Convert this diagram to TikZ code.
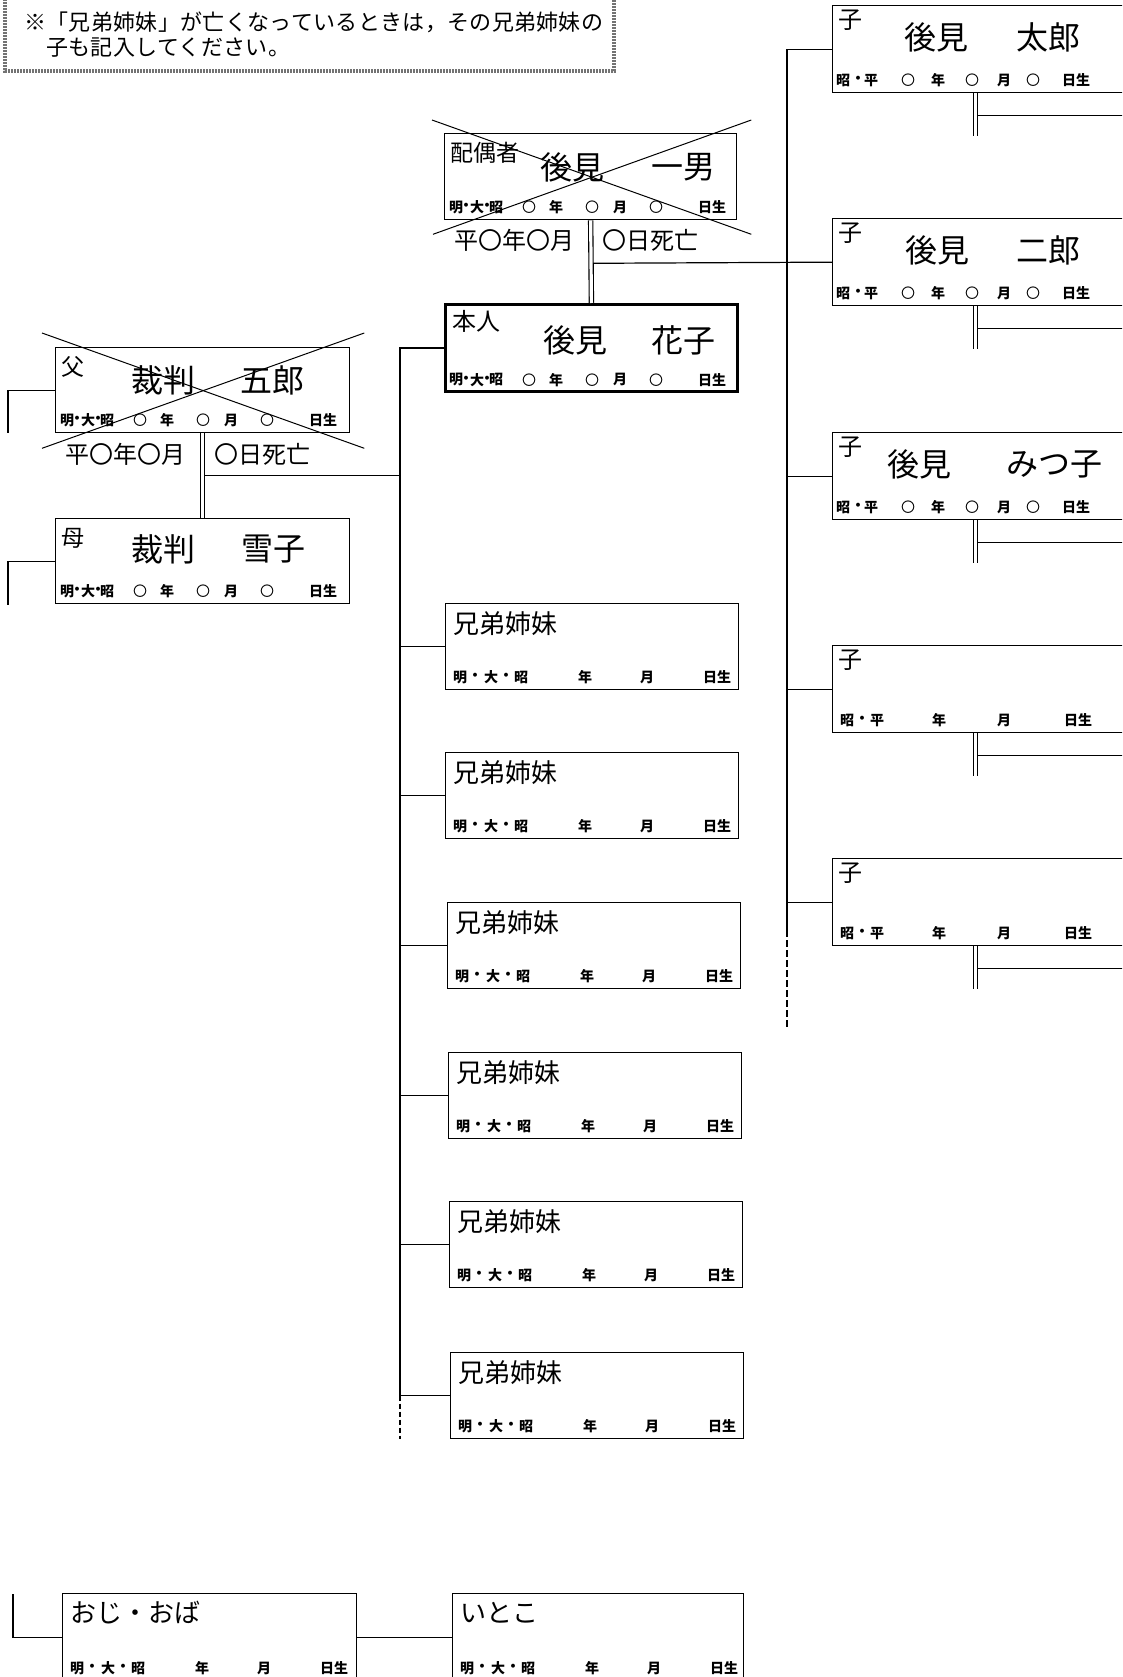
\documentclass[tikz,border=0pt]{standalone}
\usepackage{fontspec}
\newfontfamily\jp{Noto Sans CJK JP}
\newfontfamily\jpn[LetterSpace=1.5]{Noto Sans CJK JP}
\usetikzlibrary{calc}
\newcommand\cir{{\mdseries 〇}}
\newcommand\rowAfull[1]{\foreach \t/\d in {明/12,・/22,大/33,・/43,昭/52,\cir/85,年/112,\cir/148,月/176,\cir/212,日生/268}{\node[dt] at ($(#1.south west)+(\d,-13)$) {\t};}}
\newcommand\rowAblank[1]{\foreach \t/\d in {明/15,・/30,大/46,・/61,昭/76,年/140,月/202,日生/272}{\node[dt] at ($(#1.south west)+(\d,-13)$) {\t};}}
\newcommand\rowCfull[1]{\foreach \t/\d in {昭/11,・/26,平/39,\cir/76,年/106,\cir/140,月/172,\cir/201,日生/244}{\node[dt] at ($(#1.south west)+(\d,-13)$) {\t};}}
\newcommand\rowCblank[1]{\foreach \t/\d in {昭/15,・/30,平/45,年/107,月/172,日生/246}{\node[dt] at ($(#1.south west)+(\d,-13)$) {\t};}}
\begin{document}
\begin{tikzpicture}[x=1pt,y=-1pt,
  ln/.style={line width=1.2pt},
  box/.style={draw,line width=1.3pt,inner sep=0,minimum width=292pt,minimum height=86pt,anchor=north west},
  sbox/.style={box,minimum width=293pt},
  cbox/.style={box,minimum width=300pt,minimum height=87pt},
  hbox/.style={box,line width=2.8pt,minimum height=87pt},
  pbox/.style={box,minimum width=294pt,minimum height=85pt},
  ubox/.style={box,minimum width=294pt,minimum height=87pt},
  dbl/.style={double,double distance=3.2pt,line width=1.1pt},
  lbl/.style={font=\jp\fontsize{23}{25}\selectfont,anchor=west,inner sep=0},
  lblb/.style={font=\jp\fontsize{26}{28}\selectfont,anchor=west,inner sep=0},
  nm/.style={font=\jp\fontsize{32}{34}\selectfont,inner sep=0},
  dt/.style={font=\jp\bfseries\fontsize{14}{16}\selectfont,inner sep=0},
  dth/.style={font=\jp\fontsize{24}{26}\selectfont,inner sep=0},
  notetxt/.style={font=\jpn\fontsize{22}{24}\selectfont,anchor=west,inner sep=0},
  notebd/.style={draw=black!55,line width=4pt,dash pattern=on 2pt off 1pt}
]
\useasboundingbox (0,0) rectangle (1122,1677);
\clip (0,0) rectangle (1122,1677);
\fill[white] (0,0) rectangle (1122,1677);

% note box
\draw[notebd] (5,-40) rectangle (614,71);
\node[notetxt] (n1) at (24,22) {※「兄弟姉妹」が亡くなっているときは，その兄弟姉妹の};
\node[notetxt] (n2) at (46,48) {子も記入してください。};

% spouse
\node[box] (sp) at (444,133) {};
\node[lbl] (spl) at ($(sp.north west)+(6,20)$) {配偶者};
\node[nm] (spn1) at ($(sp.north west)+(128,34)$) {後見};
\node[nm] (spn2) at ($(sp.north west)+(239,34)$) {一男};
\rowAfull{sp}
\node[dth] (spd1) at ($(sp.south west)+(70,20)$) {平〇年〇月};
\node[dth] (spd2) at ($(sp.south west)+(206,20)$) {〇日死亡};
\draw[line width=1pt] ($(sp.north west)+(-12,-13)$) -- ($(sp.south east)+(14,14)$);
\draw[line width=1pt] ($(sp.north east)+(14,-13)$) -- ($(sp.south west)+(-11,14)$);

% principal
\node[hbox] (hon) at (444,303) {};
\node[lbl,font=\jp\fontsize{24}{26}\selectfont] (honl) at ($(hon.north west)+(8,18)$) {本人};
\node[nm] (honn1) at ($(hon.north west)+(131,37)$) {後見};
\node[nm] (honn2) at ($(hon.north west)+(239,37)$) {花子};
\rowAfull{hon}
\draw[dbl] (sp.south) -- (hon.north);

% father, mother
\node[pbox] (fa) at (55,347) {};
\node[lbl] (fal) at ($(fa.north west)+(6,20)$) {父};
\node[nm] (fan1) at ($(fa.north west)+(108,33)$) {裁判};
\node[nm] (fan2) at ($(fa.north west)+(217,33)$) {五郎};
\rowAfull{fa}
\node[dth] (fad1) at ($(fa.south west)+(70,21)$) {平〇年〇月};
\node[dth] (fad2) at ($(fa.south west)+(207,21)$) {〇日死亡};
\draw[line width=1pt] ($(fa.north west)+(-13,-14)$) -- ($(fa.south east)+(14,15)$);
\draw[line width=1pt] ($(fa.north east)+(14,-14)$) -- ($(fa.south west)+(-13,15)$);

\node[pbox] (mo) at (55,518) {};
\node[lbl] (mol) at ($(mo.north west)+(6,20)$) {母};
\node[nm] (mon1) at ($(mo.north west)+(108,31)$) {裁判};
\node[nm] (mon2) at ($(mo.north west)+(218,31)$) {雪子};
\rowAfull{mo}
\draw[dbl] (fa.south) -- (mo.north);

% stubs left of parents
\coordinate (faS) at ($(fa.west)+(-47,0)$);
\coordinate (moS) at ($(mo.west)+(-47,0)$);
\draw[ln] (fa.west) -- (faS) -- ++(0,43);
\draw[ln] (mo.west) -- (moS) -- ++(0,44);

% siblings
\node[sbox] (s1) at (445,603) {};
\node[sbox] (s2) at (445,752) {};
\node[sbox] (s3) at (447,902) {};
\node[sbox] (s4) at (448,1052) {};
\node[sbox] (s5) at (449,1201) {};
\node[sbox] (s6) at (450,1352) {};
\foreach \s in {s1,s2,s3,s4,s5,s6}{
  \node[lblb] at ($(\s.north west)+(8,21)$) {兄弟姉妹};
  \rowAblank{\s}
}

% sibling trunk
\coordinate (sTop) at ($(hon.west)+(-44,0)$);
\coordinate (sDash) at (sTop |- s6.west);
\coordinate (sEnd) at (sTop |- s6.south);
\draw[ln] (hon.west) -- (sTop) -- (sDash);
\draw[ln,dash pattern=on 5pt off 3pt] (sDash) -- (sEnd);
\foreach \s in {s1,s2,s3,s4,s5,s6}{\draw[ln] (\s.west) -- (\s.west -| sTop);}
\coordinate (faR) at ($(fa.south)+(2.5,42)$);
\draw[ln] (faR) -- (faR -| sTop);

% children
\node[cbox] (c1) at (832,5) {};
\node[cbox] (c2) at (832,218) {};
\node[cbox] (c3) at (832,432) {};
\node[cbox] (c4) at (832,645) {};
\node[cbox] (c5) at (832,858) {};
\foreach \c in {c1,c2,c3,c4,c5}{
  \node[lbl,font=\jp\fontsize{24}{26}\selectfont] at ($(\c.north west)+(6,15)$) {子};
  \coordinate (\c d) at ($(\c.south west)+(143.5,0)$);
  \draw[dbl] (\c d) -- ++(0,43);
  \draw[ln] ($(\c d)+(2.5,22)$) -- ++(160,0);
}
\node[nm] (c1n1) at ($(c1.north west)+(104,32)$) {後見};
\node[nm] (c1n2) at ($(c1.north west)+(216,32)$) {太郎};
\rowCfull{c1}
\node[nm] (c2n1) at ($(c2.north west)+(105,32)$) {後見};
\node[nm] (c2n2) at ($(c2.north west)+(216,32)$) {二郎};
\rowCfull{c2}
\node[nm] (c3n1) at ($(c3.north west)+(87,32)$) {後見};
\node[nm] (c3n2) at ($(c3.north west)+(222,32)$) {みつ子};
\rowCfull{c3}
\rowCblank{c4}
\rowCblank{c5}

% children trunk
\coordinate (cTop) at ($(c1.west)+(-45,0)$);
\coordinate (cDash) at (cTop |- 0,930);
\coordinate (cEnd) at (cTop |- 0,1027);
\draw[ln] (c1.west) -- (cTop) -- (cDash);
\draw[ln,dash pattern=on 7pt off 3pt] (cDash) -- (cEnd);
\foreach \c in {c2,c3,c4,c5}{\draw[ln] (\c.west) -- (\c.west -| cTop);}
\coordinate (spR) at ($(sp.south)+(2.5,43)$);
\draw[ln] (spR) -- (c2.west);

% uncle, cousin
\node[ubox] (un) at (62,1593) {};
\node[ubox,minimum width=291pt] (co) at (452,1593) {};
\node[lblb] (unl) at ($(un.north west)+(8,20)$) {おじ・おば};
\node[lblb] (col) at ($(co.north west)+(8,20)$) {いとこ};
\rowAblank{un}
\rowAblank{co}
\coordinate (unS) at ($(un.west)+(-49,0)$);
\draw[ln] (un.west) -- (unS) -- ++(0,-43);
\draw[ln] (un.east) -- (co.west);
\end{tikzpicture}
\end{document}
